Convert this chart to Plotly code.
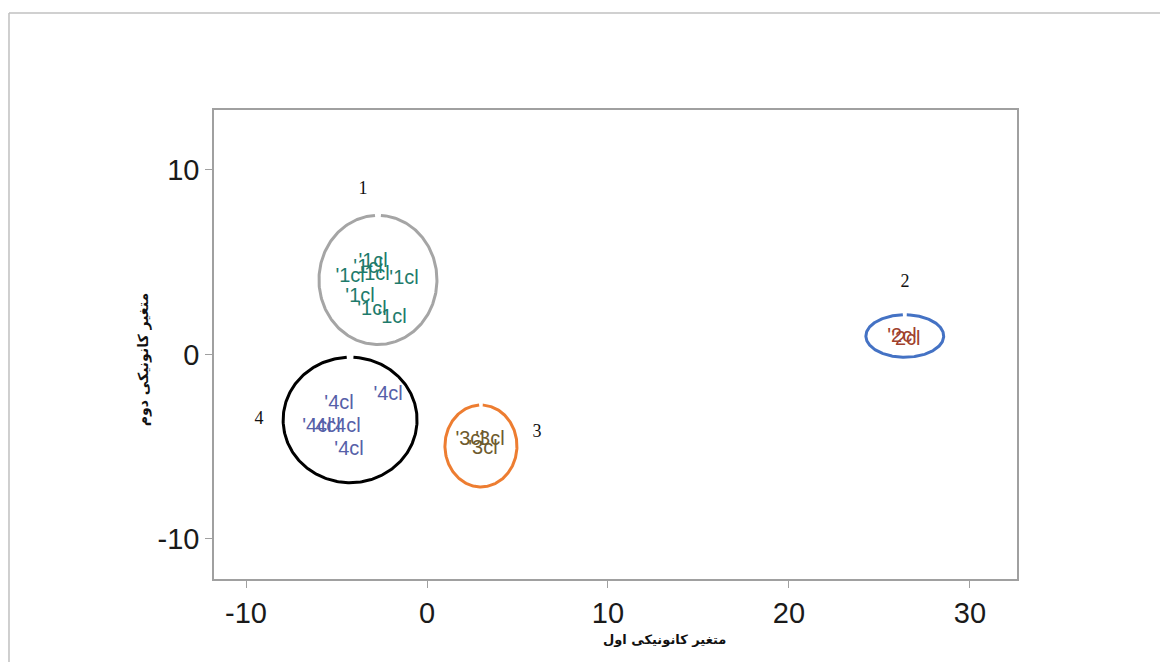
import numpy as np
import plotly.graph_objects as go

# ---- data ----
cluster_ids = ["1", "2", "3", "4"]
centers_x = [-2.71, 26.4, 2.98, -4.25]
centers_y = [4.04, 1.0, -4.96, -3.55]
radius_x = [3.26, 2.15, 1.99, 3.7]
radius_y = [3.5, 1.15, 2.22, 3.4]
circle_colors = ["#A5A5A5", "#4472C4", "#ED7D31", "#000000"]

label_x = [-3.54, 26.41, 6.08, -9.28]
label_y = [8.92, 3.88, -4.25, -3.50]

pts1_x = [-2.98, -3.26, -4.25, -2.87, -1.27, -3.70, -3.04, -1.93]
pts1_y = [5.01, 4.69, 4.20, 4.31, 4.09, 3.12, 2.42, 1.98]
pts2_x = [26.24, 26.46]
pts2_y = [0.95, 0.79]
pts3_x = [2.38, 3.48, 3.09]
pts3_y = [-4.63, -4.63, -5.12]
pts4_x = [-2.15, -4.86, -6.08, -5.58, -4.48, -4.31]
pts4_y = [-2.19, -2.68, -3.93, -3.93, -3.93, -5.18]
point_text = ["'1cl", "'2cl", "'3cl", "'4cl"]
point_colors = ["#1E7B6B", "#A0412D", "#6E5B2E", "#5660A8"]

x_ticks = [-10, 0, 10, 20, 30]
x_ticktext = ["-10", "0", "10", "20", "30"]
y_ticks = [-10, 0, 10]
y_ticktext = ["-10", "0", "10"]
x_title = "متغیر کانونیکی اول"
y_title = "متغیر کانونیکی دوم"

fig = go.Figure()

# circles with small gap at top
theta = np.linspace(np.pi / 2 + 0.05, np.pi / 2 + 2 * np.pi - 0.05, 300)
for cx, cy, rx, ry, col in zip(centers_x, centers_y, radius_x, radius_y, circle_colors):
    fig.add_trace(go.Scatter(x=cx + rx * np.cos(theta), y=cy + ry * np.sin(theta),
                             mode="lines", line=dict(color=col, width=3),
                             hoverinfo="skip", showlegend=False))

pts = [(pts1_x, pts1_y), (pts2_x, pts2_y), (pts3_x, pts3_y), (pts4_x, pts4_y)]
for (px, py), t, col in zip(pts, point_text, point_colors):
    fig.add_trace(go.Scatter(x=px, y=py, mode="text", text=[t] * len(px),
                             textfont=dict(family="Liberation Sans, Arial", size=20, color=col),
                             textposition="middle center", showlegend=False))

fig.add_trace(go.Scatter(x=label_x, y=label_y, mode="text", text=cluster_ids,
                         textfont=dict(family="Liberation Serif, Times New Roman", size=18, color="#111"),
                         showlegend=False))

axis_common = dict(showgrid=False, zeroline=False, showline=True, linecolor="#A0A0A0",
                   linewidth=1.5, mirror=True, ticks="outside", ticklen=7, tickcolor="#A0A0A0",
                   tickfont=dict(family="Liberation Sans, Arial", size=29, color="#1a1a1a"))

fig.update_xaxes(range=[-11.77, 32.6], tickvals=x_ticks, ticktext=x_ticktext, **axis_common)
fig.update_yaxes(range=[-12.17, 13.25], tickvals=y_ticks, ticktext=y_ticktext, **axis_common)

fig.add_annotation(text="<b>" + x_title + "</b>", xref="paper", yref="paper", x=0.5616, y=-0.15,
                   showarrow=False, font=dict(family="DejaVu Sans", size=13, color="#111"))
fig.add_annotation(text="<b>" + y_title + "</b>", xref="paper", yref="paper", x=-0.1, y=0.467,
                   showarrow=False, textangle=-90,
                   font=dict(family="DejaVu Sans", size=14, color="#111"))

# outer frame
fig.add_shape(type="line", xref="paper", yref="paper", x0=-0.2553, x1=1.25, y0=1.2068, y1=1.2068,
              line=dict(color="#C0C0C0", width=1.5))
fig.add_shape(type="line", xref="paper", yref="paper", x0=-0.2553, x1=-0.2553, y0=-0.3, y1=1.2068,
              line=dict(color="#C0C0C0", width=1.5))

fig.update_layout(width=1168, height=662, plot_bgcolor="white", paper_bgcolor="white",
                  margin=dict(l=206, r=159, t=102, b=91), showlegend=False)

fig.write_html("out.html")
